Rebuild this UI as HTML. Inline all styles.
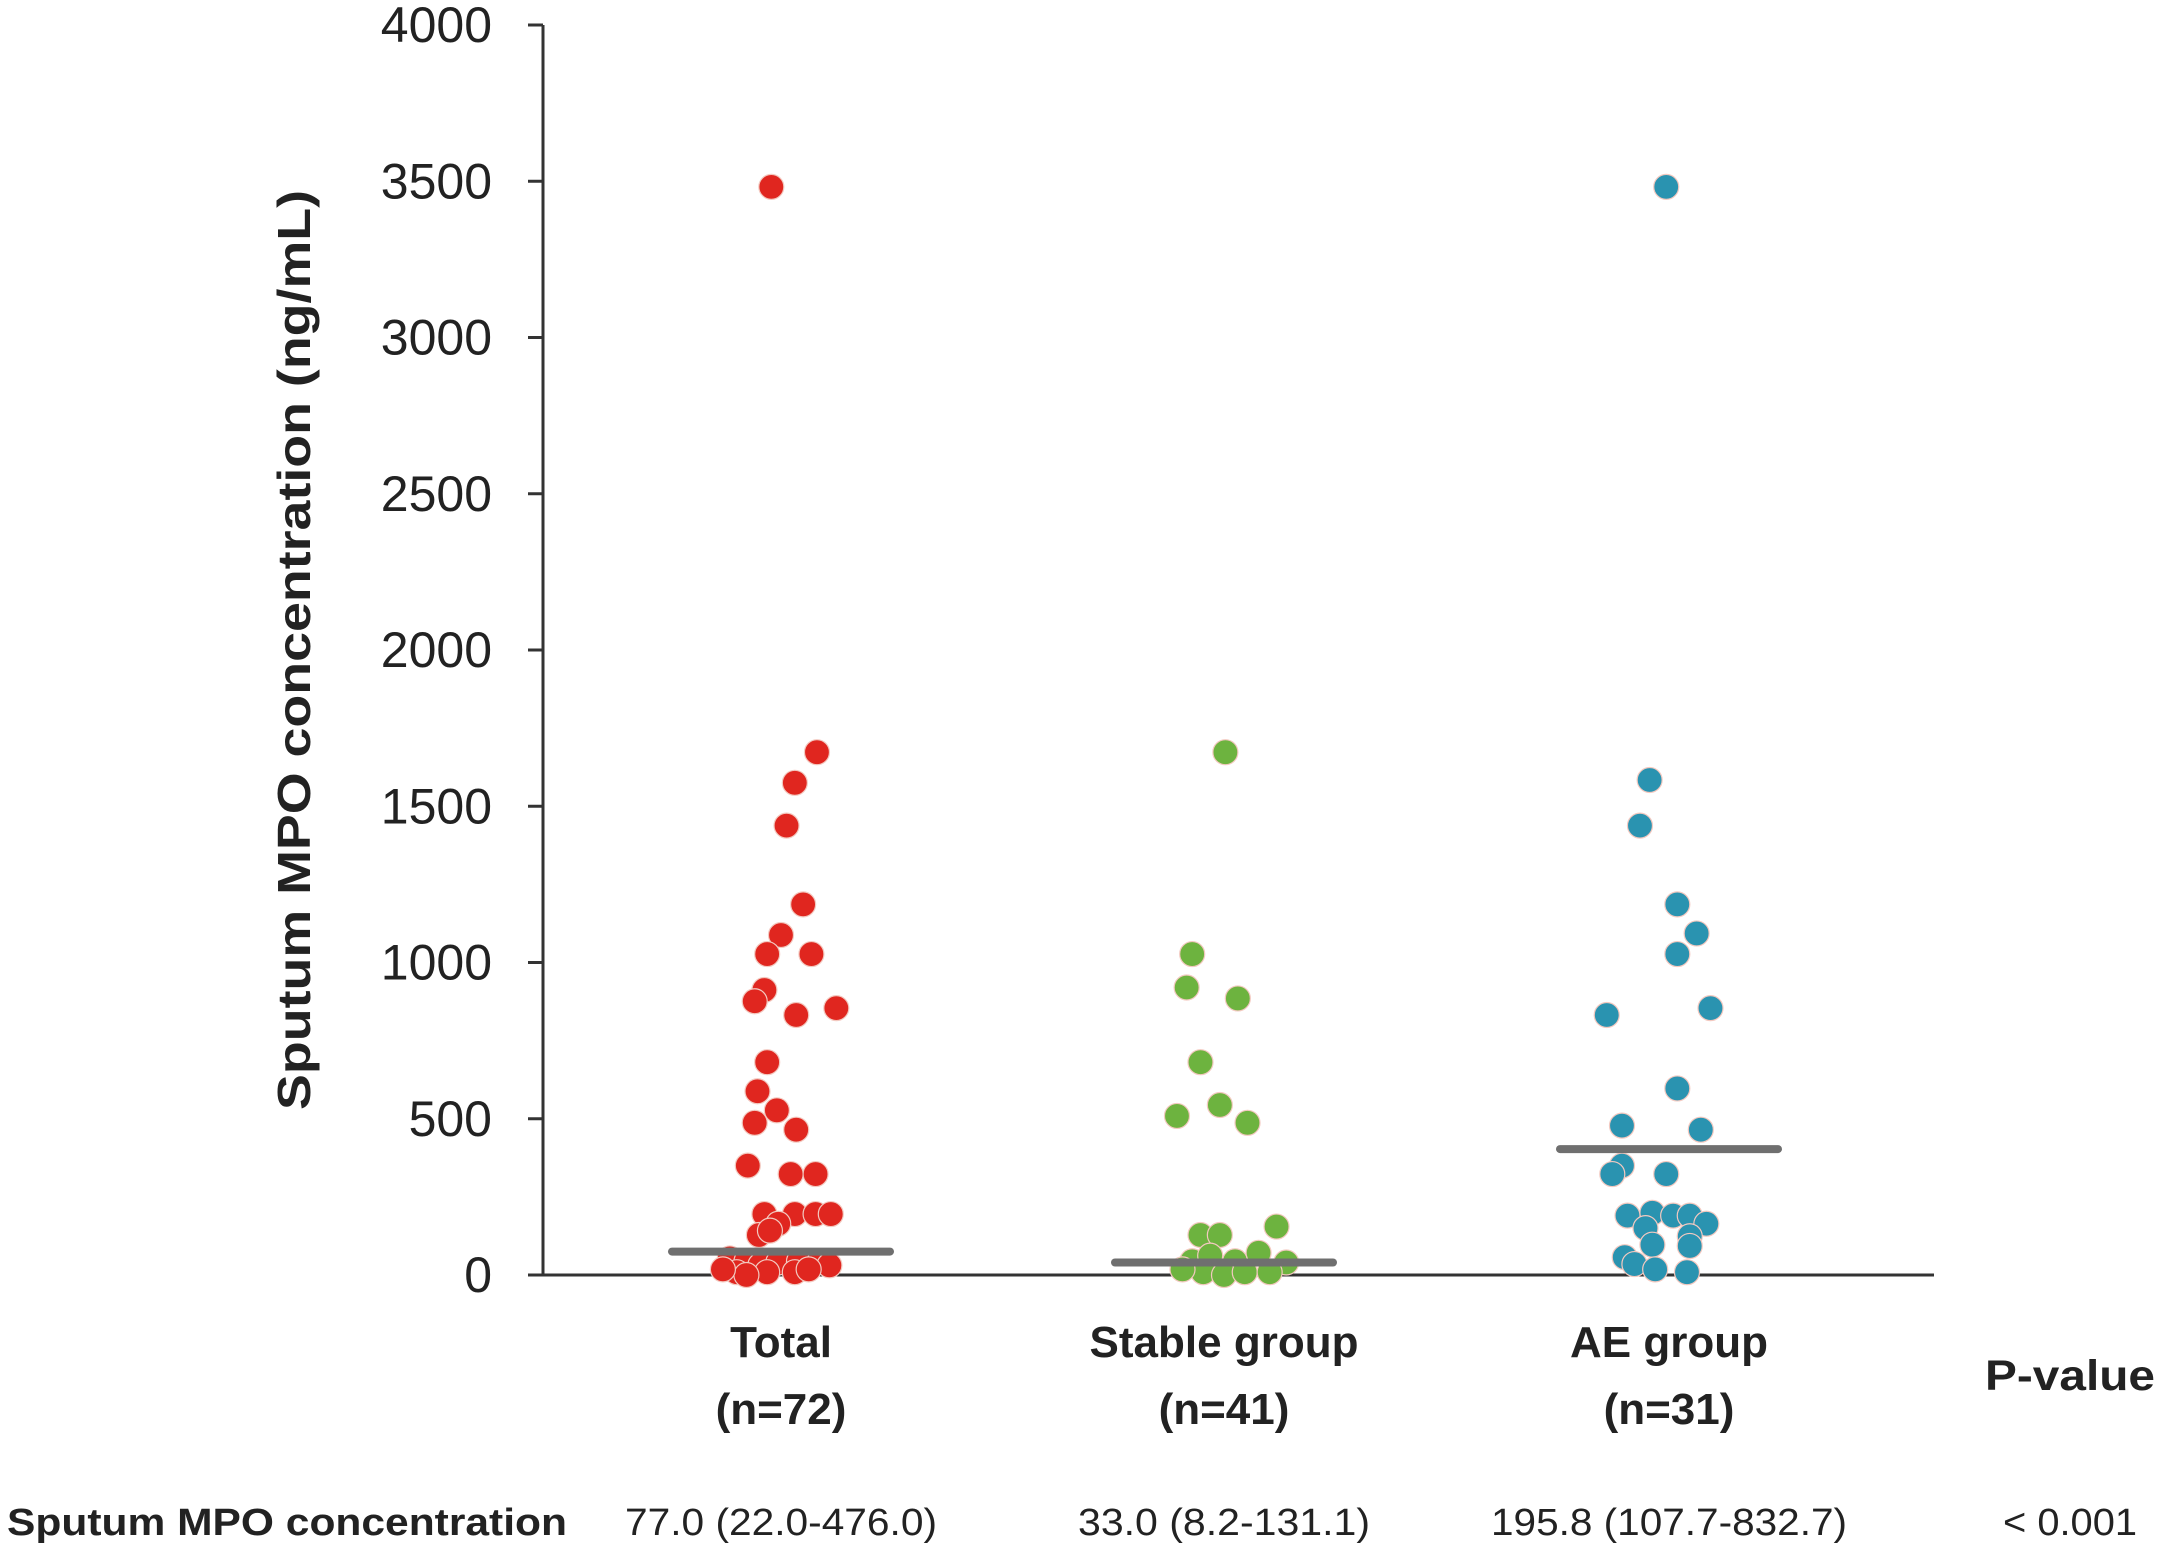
<!DOCTYPE html>
<html><head><meta charset="utf-8"><style>
html,body{margin:0;padding:0;background:#fff;}
svg{display:block;font-family:"Liberation Sans",sans-serif;}
</style></head><body>
<svg id="chart" width="2167" height="1556" viewBox="0 0 2167 1556" xmlns="http://www.w3.org/2000/svg">
<g id="axes"></g>
<g id="marks"></g>
<text transform="translate(310,650) rotate(-90)" text-anchor="middle" font-size="46" font-weight="bold" fill="#222" textLength="920" lengthAdjust="spacingAndGlyphs">Sputum MPO concentration  (ng/mL)</text>
<text x="2070" y="1390" text-anchor="middle" font-size="43" font-weight="bold" fill="#222" textLength="170" lengthAdjust="spacingAndGlyphs">P-value</text>
<text x="7" y="1535" font-size="38" font-weight="bold" fill="#222" textLength="560" lengthAdjust="spacingAndGlyphs">Sputum MPO concentration</text>
<text x="781" y="1535" text-anchor="middle" font-size="38" fill="#222" textLength="312" lengthAdjust="spacingAndGlyphs">77.0 (22.0-476.0)</text>
<text x="1224" y="1535" text-anchor="middle" font-size="38" fill="#222" textLength="292" lengthAdjust="spacingAndGlyphs">33.0 (8.2-131.1)</text>
<text x="1669" y="1535" text-anchor="middle" font-size="38" fill="#222" textLength="356" lengthAdjust="spacingAndGlyphs">195.8 (107.7-832.7)</text>
<text x="2070" y="1535" text-anchor="middle" font-size="38" fill="#222" textLength="134" lengthAdjust="spacingAndGlyphs">&lt; 0.001</text>
</svg>
<script>
const categories = ["Total", "Stable group", "AE group"];
const categoryN = ["(n=72)", "(n=41)", "(n=31)"];
const yTicks = [0, 500, 1000, 1500, 2000, 2500, 3000, 3500, 4000];
const medians = [75, 40, 403];
const totalValues = [3482,1673,1575,1438,1186,1088,1027,1027,912,876,832,854,681,588,527,487,465,350,323,323,195,195,195,195,164,128,142,53,44,31,40,44,44,31,9,9,9,18,0,18];
const totalOffsets = [-7,26,10,4,16,0,-10,22,-12,-19,11,40,-10,-17,-3,-19,11,-24,7,25,-12,10,25,36,-2,-16,-8,-37,-25,-15,-2,13,28,35,-32,-10,10,20,-25,-42];
const stableValues = [1673,1027,920,885,681,544,509,487,128,128,155,44,62,44,71,40,9,0,9,9,18];
const stableOffsets = [1,-23,-27,10,-17,-3,-34,17,-17,-3,38,-23,-10,8,25,45,-15,0,15,33,-30];
const aeValues = [3482,1584,1438,1186,1093,1027,832,854,597,478,465,350,323,323,190,199,190,190,150,164,124,97,93,57,35,18,9];
const aeOffsets = [-2,-14,-21,6,20,6,-45,30,6,-34,23,-34,-41,-2,-30,-12,3,15,-17,27,15,-12,15,-32,-25,-10,13];
const groups = [
  {name:"total", values: totalValues, offsets: totalOffsets, color:"#e0261f"},
  {name:"stable", values: stableValues, offsets: stableOffsets, color:"#6db33f"},
  {name:"ae", values: aeValues, offsets: aeOffsets, color:"#2a93b0"}
];
const NS = "http://www.w3.org/2000/svg";
const plot = {x0:543, x1:1934, y0:1275, y1:25, vmax:4000};
const centers = [781, 1224, 1669];
const xScale = i => centers[i];
const yScale = v => plot.y0 - (v / plot.vmax) * (plot.y0 - plot.y1);
const offScale = d => d / 0.723;
function mk(tag, attrs, parent){ const e=document.createElementNS(NS,tag); for(const k in attrs) e.setAttribute(k, attrs[k]); parent.appendChild(e); return e; }
const axes = document.getElementById("axes");
const marks = document.getElementById("marks");
let el = mk("line",{x1:plot.x0,y1:plot.y1,x2:plot.x0,y2:plot.y0,stroke:"#333","stroke-width":3},axes);


el = mk("line",{x1:plot.x0-15,y1:plot.y0,x2:plot.x1,y2:plot.y0,stroke:"#333","stroke-width":3},axes);


yTicks.forEach(t => {
  const y = yScale(t);
  const tk = mk("line",{x1:plot.x0-15,y1:y,x2:plot.x0,y2:y,stroke:"#333","stroke-width":3},axes);
  
  
  const lb = mk("text",{x:492,y:y+17,"text-anchor":"end","font-size":50,fill:"#222"},axes);
  lb.textContent = t;
  
  
});
categories.forEach((c,i) => {
  const a = mk("text",{x:xScale(i),y:1357,"text-anchor":"middle","font-size":44,"font-weight":"bold",fill:"#222"},axes);
  a.textContent = c;
  
  
  const b = mk("text",{x:xScale(i),y:1424,"text-anchor":"middle","font-size":44,"font-weight":"bold",fill:"#222"},axes);
  b.textContent = categoryN[i];
  
  
});
groups.forEach((g,i) => {
  g.values.forEach((v,j) => {
    const c = mk("circle",{cx:xScale(i)+offScale(g.offsets[j]||0),cy:yScale(v),r:12.5,fill:g.color,stroke:"#f3c9c0","stroke-width":1.2},marks);
    
    
  });
});
medians.forEach((m,i) => {
  const l = mk("line",{x1:xScale(i)-109,x2:xScale(i)+109,y1:yScale(m),y2:yScale(m),stroke:"#6f6f6f","stroke-width":8,"stroke-linecap":"round"},marks);
  
  
});
</script>
</body></html>
